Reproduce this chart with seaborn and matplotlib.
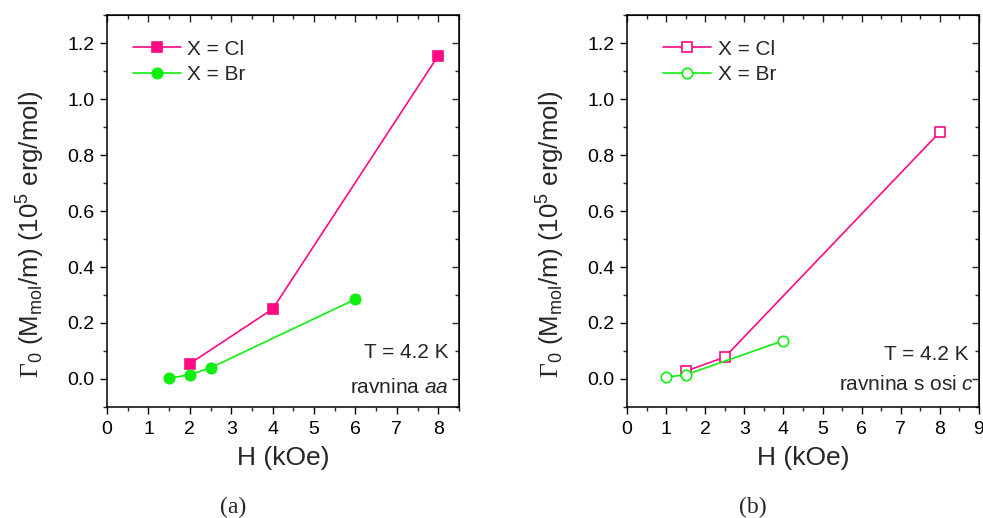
import pandas as pd
import matplotlib
matplotlib.use('Agg')
import matplotlib.pyplot as plt
from matplotlib.ticker import MultipleLocator
import seaborn as sns

# panel (a): ravnina aa
a_cl_h = [2, 4, 8]
a_cl_g = [0.055, 0.25, 1.155]
a_br_h = [1.5, 2, 2.5, 6]
a_br_g = [0.003, 0.015, 0.04, 0.285]

# panel (b): ravnina s osi c
b_cl_h = [1.5, 2.5, 8]
b_cl_g = [0.028, 0.078, 0.882]
b_br_h = [1, 1.5, 4]
b_br_g = [0.007, 0.015, 0.137]

labels = ['X = Cl', 'X = Br']
pink = '#FF0A82'
green = '#10F010'

sns.set_style('ticks')
plt.rcParams['font.family'] = ['Liberation Sans', 'DejaVu Sans']
plt.rcParams['mathtext.fontset'] = 'custom'
plt.rcParams['mathtext.rm'] = 'Liberation Serif'
plt.rcParams['mathtext.sf'] = 'Liberation Sans'
plt.rcParams['mathtext.it'] = 'Liberation Sans:italic'

fig = plt.figure(figsize=(9.83, 5.18), dpi=100)
ax1 = fig.add_axes([0.1089, 0.2143, 0.358, 0.7567])
ax2 = fig.add_axes([0.6379, 0.2143, 0.358, 0.7567])

ylabel = r'$\Gamma_{\mathsf{0}}$ (M$_{\mathsf{mol}}$/m) (10$^{\mathsf{5}}$ erg/mol)'
yticks = [0.0, 0.2, 0.4, 0.6, 0.8, 1.0, 1.2]


def draw(ax, cl_h, cl_g, br_h, br_g, filled, xmax, xticks, leg_x):
    df_cl = pd.DataFrame({'H': cl_h, 'G': cl_g})
    df_br = pd.DataFrame({'H': br_h, 'G': br_g})
    sns.lineplot(data=df_cl, x='H', y='G', ax=ax, color=pink, marker='s',
                 markersize=7.5, linewidth=1.2, label=labels[0],
                 markerfacecolor=pink if filled else 'white',
                 markeredgecolor=pink, markeredgewidth=1.2)
    sns.lineplot(data=df_br, x='H', y='G', ax=ax, color=green, marker='o',
                 markersize=7.5, linewidth=1.2, label=labels[1],
                 markerfacecolor=green if filled else 'white',
                 markeredgecolor=green, markeredgewidth=1.2)
    ax.set_xlim(0, xmax)
    ax.set_ylim(-0.1, 1.3)
    ax.set_xticks(xticks)
    ax.set_yticks(yticks)
    ax.set_yticklabels(['%.1f' % v for v in yticks])
    ax.xaxis.set_minor_locator(MultipleLocator(0.5))
    ax.yaxis.set_minor_locator(MultipleLocator(0.1))
    ax.tick_params(which='major', direction='out', length=5, width=1,
                   labelsize=14, colors='black', pad=4)
    ax.tick_params(which='minor', direction='out', length=3, width=1)
    ax.tick_params(axis='x', which='major', pad=5)
    for s in ax.spines.values():
        s.set_visible(True)
        s.set_linewidth(1.1)
        s.set_color('black')
    # mirrored ticks on top and right, pointing inward
    top = ax.secondary_xaxis('top')
    top.set_xticks(xticks)
    top.xaxis.set_minor_locator(MultipleLocator(0.5))
    top.tick_params(which='both', direction='in', labeltop=False)
    top.tick_params(which='major', length=5, width=1)
    top.tick_params(which='minor', length=3, width=1)
    right = ax.secondary_yaxis('right')
    right.set_yticks(yticks)
    right.yaxis.set_minor_locator(MultipleLocator(0.1))
    right.tick_params(which='both', direction='in', labelright=False)
    right.tick_params(which='major', length=5, width=1)
    right.tick_params(which='minor', length=3, width=1)
    ax.set_xlabel('H (kOe)', fontsize=19, labelpad=6)
    ax.set_ylabel(ylabel, fontsize=18.5)
    ax.yaxis.set_label_coords(-0.17, 0.44)
    ax.legend(loc='upper left', frameon=False, fontsize=15, handlelength=2.3,
              handletextpad=0.3, labelspacing=0.3, borderaxespad=0.5,
              bbox_to_anchor=(leg_x, 0.985))


draw(ax1, a_cl_h, a_cl_g, a_br_h, a_br_g, True, 8.5, list(range(0, 9)), 0.02)
draw(ax2, b_cl_h, b_cl_g, b_br_h, b_br_g, False, 9, list(range(0, 10)), 0.05)

ax1.text(0.97, 0.14, 'T = 4.2 K', transform=ax1.transAxes, ha='right',
         va='center', fontsize=15)
ax1.text(0.97, 0.05, 'ravnina $\\mathit{aa}$', transform=ax1.transAxes,
         ha='right', va='center', fontsize=15)
ax2.text(0.97, 0.135, 'T = 4.2 K', transform=ax2.transAxes, ha='right',
         va='center', fontsize=15)
ax2.text(0.985, 0.057, 'ravnina s osi $\\mathit{c}$', transform=ax2.transAxes,
         ha='right', va='center', fontsize=15)

fig.text(0.237, 0.0, '(a)', ha='center', va='bottom', fontsize=17,
         family='Liberation Serif')
fig.text(0.766, 0.0, '(b)', ha='center', va='bottom', fontsize=17,
         family='Liberation Serif')

plt.savefig('out.png', dpi=100)
